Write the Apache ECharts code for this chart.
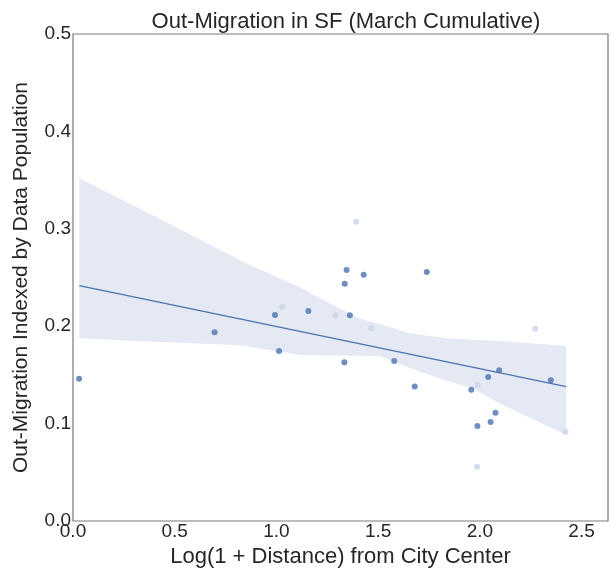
<!DOCTYPE html>
<html lang="en">
<head>
    <meta charset="UTF-8">
    <title>Out-Migration in SF</title>
    <script src="https://cdn.jsdelivr.net/npm/echarts@6/dist/echarts.min.js"></script>
    <style>
        html, body { margin: 0; padding: 0; background: #fff; }
        #main { width: 611px; height: 575px; }
    </style>
</head>
<body>
<div id="main"></div>
<script>
    // scatter points (x = log(1 + distance), y = out-migration index)
    var darkX = [0.03, 0.696, 0.993, 1.013, 1.157, 1.345, 1.429, 1.336, 1.739, 1.361, 1.334, 1.579, 1.680, 2.095, 2.041, 2.349, 1.958, 2.077, 2.053, 1.988];
    var darkY = [0.146, 0.1937, 0.2115, 0.1745, 0.2156, 0.2577, 0.2528, 0.2437, 0.2557, 0.2112, 0.163, 0.1643, 0.138, 0.1547, 0.1478, 0.1444, 0.1348, 0.1112, 0.1016, 0.0975];
    var lightX = [1.027, 1.392, 1.290, 1.467, 2.272, 1.989, 2.421, 1.986];
    var lightY = [0.220, 0.3073, 0.2112, 0.198, 0.1975, 0.1396, 0.0917, 0.0557];

    // fitted regression line
    var fitX = [0.031, 2.425];
    var fitY = [0.2416, 0.1379];

    // confidence band
    var bandX = [0.031, 0.40, 0.804, 0.837, 1.115, 1.229, 1.41, 1.508, 1.655, 1.753, 1.835, 1.966, 2.081, 2.425];
    var bandUp = [0.352, 0.313, 0.2697, 0.266, 0.240, 0.2269, 0.208, 0.2023, 0.1927, 0.190, 0.1876, 0.186, 0.185, 0.1797];
    var bandLo = [0.1876, 0.184, 0.1807, 0.180, 0.1704, 0.170, 0.1697, 0.1694, 0.157, 0.150, 0.144, 0.1362, 0.1225, 0.0883];

    var xTicks = ['0.0', '0.5', '1.0', '1.5', '2.0', '2.5'];
    var yTicks = ['0.0', '0.1', '0.2', '0.3', '0.4', '0.5'];

    function pairs(xs, ys) {
        return xs.map(function (x, i) { return [x, ys[i]]; });
    }

    var font = 'Liberation Sans, Arial, sans-serif';
    var textColor = '#262626';
    var blue = '#4c72b0';

    var chart = echarts.init(document.getElementById('main'));

    var option = {
        backgroundColor: '#fff',
        animation: false,
        title: {
            text: 'Out-Migration in SF (March Cumulative)',
            left: 341,
            top: 6,
            textAlign: 'center',
            textStyle: { fontFamily: font, fontSize: 22, fontWeight: 'normal', color: textColor }
        },
        grid: {
            left: 73, right: 3, top: 34, bottom: 54,
            show: true, borderColor: '#7a7a7a', borderWidth: 1.2
        },
        xAxis: {
            type: 'value',
            min: 0, max: 2.63, interval: 0.5,
            name: 'Log(1 + Distance) from City Center',
            nameLocation: 'middle',
            nameGap: 24,
            nameTextStyle: { fontFamily: font, fontSize: 22, color: textColor },
            axisLine: { show: false },
            axisTick: { show: false },
            splitLine: { show: false },
            axisLabel: {
                fontFamily: font, fontSize: 19, color: textColor, margin: 1,
                showMaxLabel: false,
                formatter: function (v) { return xTicks[Math.round(v / 0.5)] || ''; }
            }
        },
        yAxis: {
            type: 'value',
            min: 0, max: 0.5, interval: 0.1,
            name: 'Out-Migration Indexed by Data Population',
            nameLocation: 'middle',
            nameGap: 41,
            nameTextStyle: { fontFamily: font, fontSize: 21, color: textColor },
            axisLine: { show: false },
            axisTick: { show: false },
            splitLine: { show: false },
            axisLabel: {
                fontFamily: font, fontSize: 19, color: textColor, margin: 2,
                padding: [0, 0, 9, 0],
                formatter: function (v) { return yTicks[Math.round(v / 0.1)] || ''; }
            }
        },
        series: [
            {
                type: 'custom',
                z: 1,
                silent: true,
                data: [[0, 0]],
                renderItem: function (params, api) {
                    var pts = [];
                    for (var i = 0; i < bandX.length; i++) pts.push(api.coord([bandX[i], bandUp[i]]));
                    for (var j = bandX.length - 1; j >= 0; j--) pts.push(api.coord([bandX[j], bandLo[j]]));
                    return {
                        type: 'polygon',
                        shape: { points: pts },
                        style: { fill: '#e4e9f3', stroke: null }
                    };
                }
            },
            {
                type: 'line',
                z: 3,
                data: pairs(fitX, fitY),
                showSymbol: false,
                lineStyle: { color: blue, width: 1.2 }
            },
            {
                type: 'scatter',
                z: 2,
                data: pairs(lightX, lightY),
                symbolSize: 6,
                itemStyle: { color: '#cbd5e8' }
            },
            {
                type: 'scatter',
                z: 4,
                data: pairs(darkX, darkY),
                symbolSize: 6,
                itemStyle: { color: blue }
            }
        ]
    };

    chart.setOption(option);
</script>
</body>
</html>
